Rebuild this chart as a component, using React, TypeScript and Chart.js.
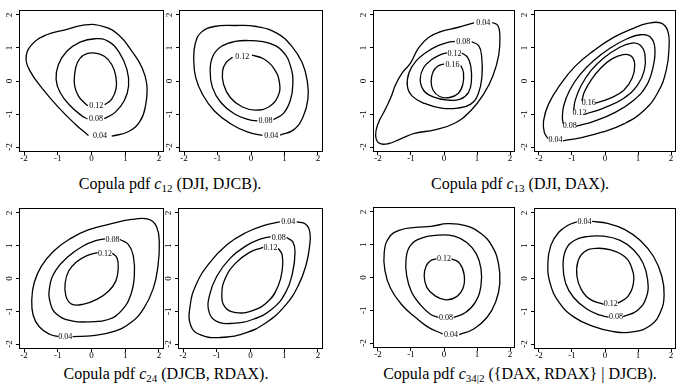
import React, { useEffect, useRef } from 'react';
import { Chart, registerables } from 'chart.js';

Chart.register(...registerables);

// ---- axis ticks ----
const TICK_VALUES = [-2, -1, 0, 1, 2];
const TICK_LABELS = ['-2', '-1', '0', '1', '2'];
const AXIS_MIN = -2.15;
const AXIS_MAX = 2.15;

// ---- captions ----
const CAPTION_SUBS = ['12', '13', '24', '34|2'];
const CAPTION_NAMES = ['(DJI, DJCB).', '(DJI, DAX).', '(DJCB, RDAX).', '({DAX, RDAX} | DJCB).'];

// ---- contour levels ----
const LEVELS_3 = ['0.04', '0.08', '0.12'];
const LEVELS_4 = ['0.04', '0.08', '0.12', '0.16'];

// ---- contour paths [x, y]; each runs from one side of its label gap round to the other ----
// c12, left panel
const P1_04 = [[0.60,-1.67],[1.10,-1.53],[1.45,-1.20],[1.61,-0.70],[1.64,-0.10],[1.50,0.40],[1.20,0.90],[0.80,1.40],[0.36,1.65],[-0.19,1.70],[-0.78,1.55],[-1.33,1.40],[-1.77,1.10],[-1.94,0.70],[-1.82,0.30],[-1.48,-0.20],[-0.98,-0.80],[-0.49,-1.30],[-0.09,-1.65]];
const P1_08 = [[0.38,-1.14],[0.70,-0.95],[0.97,-0.60],[1.10,-0.15],[1.05,0.35],[0.83,0.85],[0.50,1.20],[0.11,1.28],[-0.34,1.18],[-0.73,0.90],[-0.98,0.50],[-1.05,0.05],[-0.93,-0.35],[-0.63,-0.75],[-0.29,-1.05],[-0.12,-1.15]];
const P1_12 = [[0.39,-0.72],[0.60,-0.55],[0.73,-0.22],[0.72,0.15],[0.60,0.50],[0.38,0.75],[0.06,0.85],[-0.24,0.78],[-0.42,0.55],[-0.50,0.20],[-0.50,-0.15],[-0.39,-0.45],[-0.22,-0.65],[-0.11,-0.75]];
// c12, right panel
const P2_04 = [[0.87,-1.64],[1.27,-1.48],[1.55,-1.10],[1.70,-0.55],[1.68,0.00],[1.53,0.55],[1.22,1.05],[0.77,1.45],[0.16,1.65],[-0.49,1.68],[-1.10,1.65],[-1.48,1.48],[-1.66,1.15],[-1.71,0.65],[-1.65,0.10],[-1.45,-0.40],[-1.10,-0.90],[-0.60,-1.30],[-0.09,-1.55],[0.34,-1.65]];
const P2_08 = [[0.67,-1.17],[0.97,-0.98],[1.17,-0.60],[1.25,-0.10],[1.18,0.45],[0.94,0.90],[0.54,1.15],[0.03,1.22],[-0.47,1.20],[-0.88,1.05],[-1.14,0.75],[-1.22,0.30],[-1.15,-0.20],[-0.90,-0.65],[-0.49,-1.00],[-0.04,-1.18],[0.19,-1.21]];
const P2_12 = [[0.03,0.78],[0.36,0.68],[0.67,0.40],[0.85,-0.05],[0.80,-0.48],[0.54,-0.78],[0.13,-0.88],[-0.27,-0.78],[-0.62,-0.50],[-0.82,-0.10],[-0.85,0.30],[-0.75,0.55],[-0.55,0.72]];
// c13, left panel
const P3_04 = [[1.46,1.77],[1.63,1.68],[1.69,1.40],[1.66,0.80],[1.48,0.15],[1.20,-0.40],[0.81,-0.90],[0.32,-1.28],[-0.28,-1.48],[-0.87,-1.58],[-1.31,-1.75],[-1.70,-1.90],[-1.97,-1.88],[-2.07,-1.65],[-2.00,-1.30],[-1.80,-0.90],[-1.61,-0.50],[-1.46,-0.10],[-1.26,0.25],[-1.01,0.55],[-0.77,1.00],[-0.47,1.32],[-0.08,1.50],[0.41,1.62],[0.91,1.76]];
const P3_08 = [[0.84,1.19],[1.05,1.07],[1.14,0.75],[1.15,0.15],[1.04,-0.38],[0.81,-0.70],[0.41,-0.82],[-0.08,-0.82],[-0.59,-0.68],[-0.97,-0.45],[-1.11,-0.15],[-1.06,0.25],[-0.85,0.60],[-0.52,0.88],[-0.18,1.07],[0.12,1.17],[0.33,1.20]];
const P3_12 = [[0.54,0.85],[0.71,0.72],[0.81,0.45],[0.83,0.00],[0.74,-0.35],[0.49,-0.55],[0.12,-0.58],[-0.33,-0.48],[-0.62,-0.28],[-0.72,0.05],[-0.62,0.40],[-0.37,0.65],[-0.10,0.80],[0.09,0.85]];
const P3_16 = [[0.51,0.47],[0.59,0.25],[0.57,-0.10],[0.43,-0.38],[0.17,-0.50],[-0.13,-0.47],[-0.33,-0.28],[-0.39,0.00],[-0.33,0.28],[-0.20,0.44],[0.00,0.52]];
// c13, right panel
const P4_04 = [[-1.27,-1.81],[-0.75,-1.72],[-0.09,-1.55],[0.57,-1.30],[1.17,-0.90],[1.60,-0.35],[1.86,0.35],[1.94,1.05],[1.90,1.52],[1.70,1.75],[1.32,1.75],[0.82,1.58],[0.26,1.32],[-0.34,0.92],[-0.90,0.45],[-1.35,-0.10],[-1.71,-0.70],[-1.86,-1.20],[-1.84,-1.55],[-1.73,-1.74]];
const P4_08 = [[-0.87,-1.37],[-0.34,-1.22],[0.31,-0.95],[0.87,-0.58],[1.25,-0.15],[1.45,0.40],[1.51,1.00],[1.37,1.33],[1.07,1.40],[0.67,1.28],[0.16,1.00],[-0.34,0.62],[-0.77,0.18],[-1.07,-0.28],[-1.25,-0.75],[-1.29,-1.12],[-1.26,-1.30]];
const P4_12 = [[-0.60,-1.00],[-0.04,-0.82],[0.57,-0.52],[0.99,-0.12],[1.19,0.32],[1.21,0.80],[1.07,1.08],[0.82,1.15],[0.41,1.00],[-0.04,0.70],[-0.42,0.32],[-0.73,-0.15],[-0.90,-0.58],[-0.95,-0.88]];
const P4_16 = [[-0.29,-0.67],[0.16,-0.52],[0.57,-0.28],[0.82,0.08],[0.90,0.48],[0.80,0.75],[0.55,0.80],[0.21,0.67],[-0.12,0.40],[-0.42,0.03],[-0.62,-0.32],[-0.70,-0.60]];
// c24, left panel
const P5_04 = [[-0.56,-1.77],[0.05,-1.74],[0.64,-1.62],[1.16,-1.35],[1.55,-0.91],[1.83,-0.31],[1.97,0.37],[2.01,1.06],[1.93,1.58],[1.68,1.81],[1.19,1.80],[0.54,1.66],[-0.10,1.48],[-0.64,1.21],[-1.12,0.84],[-1.49,0.37],[-1.70,-0.13],[-1.77,-0.63],[-1.73,-1.12],[-1.55,-1.47],[-1.24,-1.70],[-0.99,-1.77]];
const P5_08 = [[0.84,1.19],[1.09,1.04],[1.24,0.69],[1.27,0.07],[1.16,-0.51],[0.89,-0.98],[0.50,-1.25],[-0.05,-1.32],[-0.59,-1.29],[-1.02,-1.10],[-1.22,-0.75],[-1.24,-0.25],[-1.06,0.25],[-0.69,0.67],[-0.25,0.99],[0.15,1.16],[0.40,1.21]];
const P5_12 = [[0.62,0.77],[0.76,0.62],[0.79,0.29],[0.72,-0.08],[0.51,-0.38],[0.17,-0.63],[-0.23,-0.78],[-0.59,-0.78],[-0.76,-0.53],[-0.78,-0.13],[-0.68,0.22],[-0.45,0.50],[-0.15,0.69],[0.18,0.79]];
// c24, right panel
const P6_04 = [[1.37,1.73],[1.63,1.66],[1.76,1.41],[1.75,0.97],[1.65,0.42],[1.42,-0.21],[1.04,-0.81],[0.46,-1.35],[-0.19,-1.67],[-0.90,-1.80],[-1.48,-1.72],[-1.77,-1.44],[-1.79,-0.83],[-1.61,-0.18],[-1.22,0.47],[-0.70,1.03],[-0.11,1.41],[0.41,1.62],[0.87,1.73]];
const P6_08 = [[1.07,1.25],[1.26,1.11],[1.32,0.79],[1.25,0.19],[1.04,-0.43],[0.64,-0.93],[0.06,-1.25],[-0.55,-1.37],[-1.02,-1.30],[-1.23,-1.02],[-1.22,-0.53],[-1.00,0.07],[-0.60,0.62],[-0.11,1.01],[0.31,1.21],[0.60,1.28]];
const P6_12 = [[0.82,0.92],[0.94,0.72],[0.94,0.25],[0.82,-0.23],[0.54,-0.68],[0.06,-0.98],[-0.44,-1.04],[-0.75,-0.88],[-0.85,-0.48],[-0.74,0.02],[-0.44,0.47],[-0.04,0.79],[0.37,0.95]];
// c34|2, left panel
const P7_04 = [[0.46,-1.74],[0.90,-1.57],[1.30,-1.22],[1.57,-0.73],[1.69,-0.18],[1.65,0.42],[1.46,0.95],[1.12,1.34],[0.65,1.58],[0.11,1.64],[-0.39,1.56],[-0.86,1.53],[-1.36,1.44],[-1.67,1.21],[-1.81,0.77],[-1.79,0.22],[-1.62,-0.33],[-1.28,-0.83],[-0.86,-1.22],[-0.47,-1.52],[-0.04,-1.72]];
const P7_08 = [[0.29,-1.22],[0.65,-1.07],[0.95,-0.75],[1.12,-0.25],[1.12,0.27],[0.98,0.72],[0.70,1.06],[0.31,1.26],[-0.19,1.29],[-0.66,1.21],[-1.02,0.97],[-1.15,0.55],[-1.13,0.05],[-0.98,-0.45],[-0.70,-0.85],[-0.41,-1.12],[-0.17,-1.22]];
const P7_12 = [[0.23,0.57],[0.47,0.44],[0.61,0.09],[0.58,-0.31],[0.37,-0.59],[0.06,-0.68],[-0.27,-0.56],[-0.52,-0.30],[-0.60,0.05],[-0.54,0.35],[-0.41,0.51],[-0.23,0.57]];
// c34|2, right panel
const P8_04 = [[-0.39,1.74],[0.08,1.68],[0.59,1.50],[1.07,1.16],[1.47,0.67],[1.72,0.07],[1.79,-0.51],[1.68,-1.02],[1.39,-1.42],[0.89,-1.62],[0.26,-1.62],[-0.36,-1.46],[-0.95,-1.17],[-1.39,-0.73],[-1.66,-0.15],[-1.73,0.47],[-1.64,1.01],[-1.40,1.41],[-1.09,1.64],[-0.85,1.73]];
const P8_08 = [[0.55,-1.16],[0.97,-0.98],[1.25,-0.58],[1.29,-0.03],[1.15,0.47],[0.87,0.87],[0.46,1.16],[-0.04,1.29],[-0.55,1.28],[-0.93,1.16],[-1.19,0.87],[-1.27,0.37],[-1.19,-0.15],[-0.95,-0.58],[-0.55,-0.93],[-0.14,-1.12],[0.11,-1.18]];
const P8_12 = [[0.39,-0.75],[0.69,-0.55],[0.86,-0.15],[0.81,0.32],[0.59,0.67],[0.18,0.87],[-0.27,0.92],[-0.63,0.81],[-0.82,0.52],[-0.85,0.07],[-0.72,-0.33],[-0.46,-0.63],[-0.04,-0.79]];

// ---- layout (pixel boxes of each plot frame: left, top, right, bottom) ----
const PANELS = [
  { box: [19, 10, 163, 151], contours: [P1_04, P1_08, P1_12], levels: LEVELS_3 },
  { box: [179, 10, 322, 151], contours: [P2_04, P2_08, P2_12], levels: LEVELS_3 },
  { box: [373, 10, 514, 151], contours: [P3_04, P3_08, P3_12, P3_16], levels: LEVELS_4 },
  { box: [534, 10, 675, 151], contours: [P4_04, P4_08, P4_12, P4_16], levels: LEVELS_4 },
  { box: [19, 208, 163, 348], contours: [P5_04, P5_08, P5_12], levels: LEVELS_3 },
  { box: [178, 208, 322, 348], contours: [P6_04, P6_08, P6_12], levels: LEVELS_3 },
  { box: [373, 207, 514, 347], contours: [P7_04, P7_08, P7_12], levels: LEVELS_3 },
  { box: [534, 208, 675, 348], contours: [P8_04, P8_08, P8_12], levels: LEVELS_3 },
];
const CAPTIONS = [
  { cx: 170, baseline: 190 },
  { cx: 520, baseline: 190 },
  { cx: 166, baseline: 380 },
  { cx: 520, baseline: 380 },
];

const AX_L = 18;
const AX_B = 16;
const PAD_T = 5;
const PAD_R = 6;
const SERIF = '"Liberation Serif", "DejaVu Serif", serif';

const framePlugin = {
  id: 'frame',
  afterDatasetsDraw(chart: any) {
    const { ctx, scales } = chart;
    ctx.save();
    // contour labels, centred in each path's gap
    ctx.fillStyle = '#000';
    ctx.font = `8px ${SERIF}`;
    ctx.textAlign = 'center';
    ctx.textBaseline = 'middle';
    chart.data.datasets.forEach((ds: any) => {
      const a = ds.data[0];
      const z = ds.data[ds.data.length - 1];
      const px = scales.x.getPixelForValue((a.x + z.x) / 2);
      const py = scales.y.getPixelForValue((a.y + z.y) / 2);
      ctx.fillText(ds.label, px, py + 0.5);
    });
    ctx.restore();
  },
  afterDraw(chart: any) {
    const { ctx, chartArea, scales } = chart;
    ctx.save();
    ctx.strokeStyle = '#000';
    ctx.lineWidth = 1;
    ctx.strokeRect(
      chartArea.left + 0.5,
      chartArea.top + 0.5,
      chartArea.right - chartArea.left - 1,
      chartArea.bottom - chartArea.top - 1
    );
    ctx.fillStyle = '#000';
    ctx.font = `9px ${SERIF}`;
    ctx.textAlign = 'center';
    ctx.textBaseline = 'middle';
    TICK_VALUES.forEach((v, i) => {
      const px = scales.x.getPixelForValue(v);
      ctx.fillText(TICK_LABELS[i], px, chartArea.bottom + 6.5);
      const py = scales.y.getPixelForValue(v);
      ctx.save();
      ctx.translate(chartArea.left - 9, py);
      ctx.rotate(-Math.PI / 2);
      ctx.fillText(TICK_LABELS[i], 0, 0);
      ctx.restore();
    });
    ctx.restore();
  },
};

function axis(fit: (s: any) => void) {
  return {
    type: 'linear' as const,
    min: AXIS_MIN,
    max: AXIS_MAX,
    afterBuildTicks: (s: any) => {
      s.ticks = TICK_VALUES.map((v) => ({ value: v }));
    },
    afterFit: fit,
    ticks: { display: false },
    grid: {
      display: true,
      drawOnChartArea: false,
      drawTicks: true,
      tickLength: 3,
      color: '#000',
      lineWidth: 1,
    },
    border: { display: false },
  };
}

function Panel({ box, contours, levels }: { box: number[]; contours: number[][][]; levels: string[] }) {
  const ref = useRef<HTMLCanvasElement>(null);
  const [l, t, r, b] = box;
  const w = r - l + 1 + AX_L + PAD_R;
  const h = b - t + 1 + PAD_T + AX_B;
  useEffect(() => {
    if (!ref.current) return;
    const chart = new Chart(ref.current, {
      type: 'line',
      data: {
        datasets: contours.map((pts, i) => ({
          label: levels[i],
          data: pts.map(([x, y]) => ({ x, y })),
          borderColor: '#000',
          borderWidth: 1.3,
          pointRadius: 0,
          fill: false,
          tension: 0.45,
        })),
      },
      options: {
        animation: false,
        responsive: false,
        maintainAspectRatio: false,
        devicePixelRatio: 1,
        layout: { padding: { left: 0, top: PAD_T, right: PAD_R, bottom: 0 } },
        plugins: { legend: { display: false }, tooltip: { enabled: false } },
        scales: {
          x: axis((s: any) => { s.height = AX_B; }),
          y: axis((s: any) => { s.width = AX_L; }),
        },
      },
      plugins: [framePlugin],
    });
    return () => chart.destroy();
  }, []);
  return (
    <canvas
      ref={ref}
      width={w}
      height={h}
      style={{ position: 'absolute', left: l - AX_L, top: t - PAD_T, width: w, height: h }}
    />
  );
}

export default function App() {
  return (
    <div style={{ position: 'absolute', left: 0, top: 0, width: 678, height: 387, background: '#fff', overflow: 'hidden' }}>
      {PANELS.map((p, i) => (
        <Panel key={i} box={p.box} contours={p.contours} levels={p.levels} />
      ))}
      {CAPTIONS.map((c, i) => (
        <div
          key={'c' + i}
          style={{
            position: 'absolute',
            left: c.cx - 170,
            width: 340,
            top: c.baseline - 14,
            textAlign: 'center',
            fontFamily: SERIF,
            fontSize: 16,
            lineHeight: '16px',
            whiteSpace: 'nowrap',
            color: '#000',
          }}
        >
          Copula pdf <i>c</i>
          <span style={{ fontSize: 11, position: 'relative', top: 3 }}>{CAPTION_SUBS[i]}</span>{' '}
          {CAPTION_NAMES[i]}
        </div>
      ))}
    </div>
  );
}
